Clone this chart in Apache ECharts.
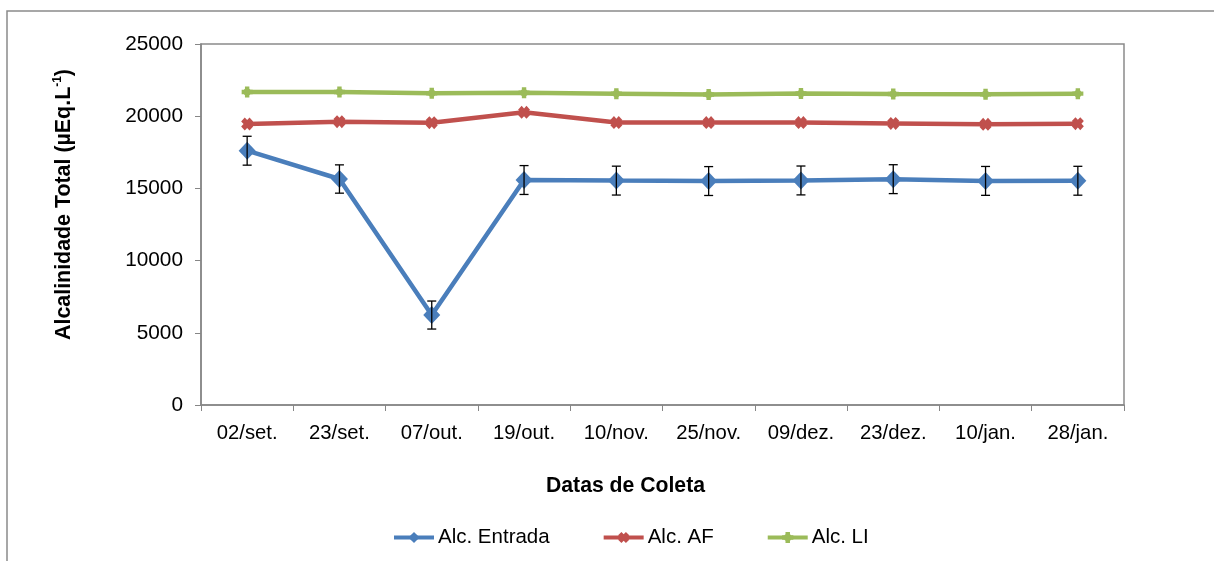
<!DOCTYPE html>
<html>
<head>
<meta charset="utf-8">
<script src="https://cdn.jsdelivr.net/npm/echarts@6/dist/echarts.min.js"></script>
<style>
  html, body { margin: 0; padding: 0; background: #ffffff; }
  #chart { width: 1214px; height: 561px; }
</style>
</head>
<body>
<div id="chart"></div>
<script>
// Sampling dates
const categories = ['02/set.', '23/set.', '07/out.', '19/out.', '10/nov.', '25/nov.', '09/dez.', '23/dez.', '10/jan.', '28/jan.'];

// Total alkalinity (µEq/L) per sampling point
const alcEntrada = [17610, 15650, 6230, 15580, 15540, 15510, 15550, 15640, 15520, 15530];
const alcEntradaErr = [1000, 980, 970, 1000, 1000, 1000, 1000, 1000, 1000, 1000];
const alcAF = [19460, 19620, 19550, 20270, 19560, 19560, 19560, 19500, 19440, 19480];
const alcLI = [21680, 21680, 21590, 21620, 21560, 21500, 21570, 21540, 21520, 21560];

const yTicks = { min: 0, max: 25000, interval: 5000 };

const FONT = '"Liberation Sans", Arial, sans-serif';
const xMark = 'path://M0,3 L3,0 L5,2 L7,0 L10,3 L8,5 L10,7 L7,10 L5,8 L3,10 L0,7 L2,5 Z';
const starMark = 'path://M3,0 L7,0 L7,2 L8,3 L10,3 L10,7 L8,7 L7,8 L7,10 L3,10 L3,8 L2,7 L0,7 L0,3 L2,3 L3,2 Z';

// Error bar rows: [categoryIndex, low, high]
const errRows = alcEntrada.map((v, i) => [i, v - alcEntradaErr[i], v + alcEntradaErr[i]]);

const chart = echarts.init(document.getElementById('chart'));
chart.setOption({
  animation: false,
  backgroundColor: '#ffffff',
  textStyle: { fontFamily: FONT },
  graphic: [{
    type: 'rect',
    shape: { x: 7, y: 11, width: 1400, height: 800 },
    style: { fill: 'none', stroke: '#8a8a8a', lineWidth: 1.5 },
    silent: true, z: -10
  }],
  grid: {
    left: 201, top: 44, right: 90, bottom: 156,
    show: true, borderColor: '#8a8a8a', borderWidth: 1.5, backgroundColor: 'transparent'
  },
  legend: {
    top: 527,
    left: 392,
    padding: 0,
    itemWidth: 40,
    itemHeight: 14,
    itemGap: 52,
    lineStyle: { width: 4 },
    textStyle: { fontFamily: FONT, fontSize: 20.5, color: '#000', padding: [0, 0, 0, -1] },
    data: ['Alc. Entrada', 'Alc. AF', 'Alc. LI']
  },
  xAxis: {
    type: 'category',
    data: categories,
    boundaryGap: true,
    name: 'Datas de Coleta',
    nameLocation: 'middle',
    nameGap: 71,
    nameTextStyle: { fontFamily: FONT, fontSize: 21.2, fontWeight: 'bold', color: '#000', padding: [0, 74, 0, 0] },
    axisLine: { lineStyle: { color: '#868686', width: 1.5 } },
    axisTick: { show: true, length: 6, lineStyle: { color: '#868686' } },
    axisLabel: { fontFamily: FONT, fontSize: 20.3, color: '#000', margin: 18 }
  },
  yAxis: {
    type: 'value',
    min: yTicks.min, max: yTicks.max, interval: yTicks.interval,
    name: '{a|Alcalinidade Total (µEq.L}{s|-1}{a|)}',
    nameLocation: 'middle',
    nameRotate: 90,
    nameGap: 124,
    nameTextStyle: {
      padding: [0, 0, 0, 40],
      rich: {
        a: { fontFamily: FONT, fontSize: 21.4, fontWeight: 'bold', color: '#000', lineHeight: 25 },
        s: { fontFamily: FONT, fontSize: 12, fontWeight: 'bold', color: '#000', verticalAlign: 'top', lineHeight: 25 }
      }
    },
    splitLine: { show: false },
    axisLine: { show: true, lineStyle: { color: '#868686', width: 1.5 } },
    axisTick: { show: true, length: 6, lineStyle: { color: '#868686' } },
    axisLabel: {
      fontFamily: FONT, fontSize: 20.8, color: '#000', margin: 18,
      formatter: function (v) { return String(v); }
    }
  },
  series: [
    {
      name: 'Alc. Entrada',
      type: 'line',
      data: alcEntrada,
      symbol: 'diamond',
      symbolSize: [17, 18],
      lineStyle: { color: '#4a7ebb', width: 4.5 },
      itemStyle: { color: '#4a7ebb' },
      z: 4
    },
    {
      name: 'Alc. AF',
      type: 'line',
      data: alcAF,
      symbol: xMark,
      symbolSize: [12, 13],
      lineStyle: { color: '#c0504d', width: 4.5 },
      itemStyle: { color: '#c0504d' },
      z: 3
    },
    {
      name: 'Alc. LI',
      type: 'line',
      data: alcLI,
      symbol: starMark,
      symbolSize: 11,
      lineStyle: { color: '#9bbb59', width: 4.5 },
      itemStyle: { color: '#9bbb59' },
      z: 3
    },
    {
      name: 'err',
      type: 'custom',
      data: errRows,
      z: 5,
      silent: true,
      renderItem: function (params, api) {
        const x = api.value(0);
        const lo = api.coord([x, api.value(1)]);
        const hi = api.coord([x, api.value(2)]);
        const cap = 4.5;
        const st = { stroke: '#000', lineWidth: 1.3 };
        return {
          type: 'group',
          children: [
            { type: 'line', shape: { x1: lo[0], y1: lo[1], x2: hi[0], y2: hi[1] }, style: st },
            { type: 'line', shape: { x1: hi[0] - cap, y1: hi[1], x2: hi[0] + cap, y2: hi[1] }, style: st },
            { type: 'line', shape: { x1: lo[0] - cap, y1: lo[1], x2: lo[0] + cap, y2: lo[1] }, style: st }
          ]
        };
      }
    }
  ]
});
</script>
</body>
</html>
